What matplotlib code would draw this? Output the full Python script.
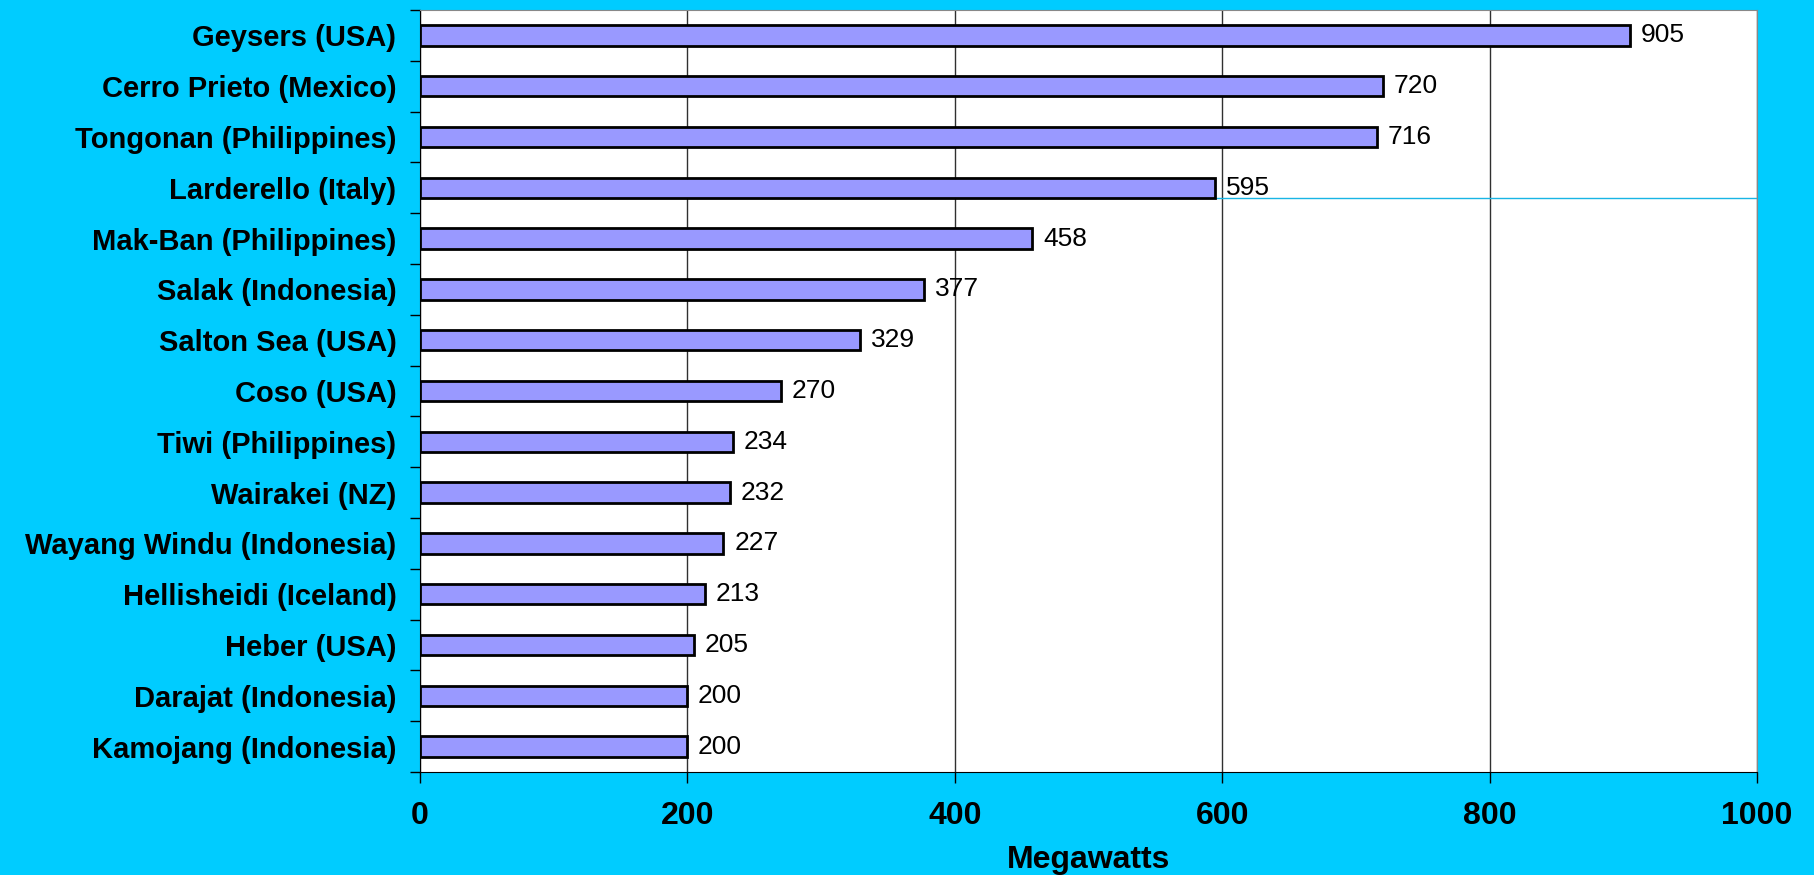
import numpy as np
import matplotlib
matplotlib.use("Agg")
import matplotlib.pyplot as plt

# campos geotermicos y su capacidad instalada (MW)
campos = ["Geysers (USA)", "Cerro Prieto (Mexico)", "Tongonan (Philippines)",
          "Larderello (Italy)", "Mak-Ban (Philippines)", "Salak (Indonesia)",
          "Salton Sea (USA)", "Coso (USA)", "Tiwi (Philippines)", "Wairakei (NZ)",
          "Wayang Windu (Indonesia)", "Hellisheidi (Iceland)", "Heber (USA)",
          "Darajat (Indonesia)", "Kamojang (Indonesia)"]
megawatts = [905, 720, 716, 595, 458, 377, 329, 270, 234, 232, 227, 213, 205, 200, 200]
xticks = [0, 200, 400, 600, 800, 1000]

plt.rcParams['font.family'] = ['Liberation Sans', 'DejaVu Sans']

fondo = '#00CCFF'
fig = plt.figure(figsize=(18.15, 8.75), dpi=100, facecolor=fondo)
ax = fig.add_axes([0.2314, 0.1177, 0.7366, 0.8709])
ax.set_facecolor('white')

y = np.arange(len(campos))
alto = 0.4
ax.barh(y, megawatts, height=alto, color='#9999FF', edgecolor='black', linewidth=2, zorder=3)

for yi, v in zip(y, megawatts):
    ax.text(v + 8, yi, str(v), va='center', ha='left', fontsize=19, zorder=4)

# linea suelta que aparece en la imagen original (bajo Larderello)
i = campos.index("Larderello (Italy)")
ax.plot([megawatts[i], 1000], [i + alto / 2, i + alto / 2], color='#19B5E5', lw=1, zorder=2)

ax.set_xlim(0, 1000)
ax.set_ylim(len(campos) - 0.5, -0.5)
ax.set_xticks(xticks)
ax.set_xticklabels([str(t) for t in xticks], fontsize=23, fontweight='bold')
ax.tick_params(axis='x', length=8, width=1, pad=13, color='black')
ax.xaxis.grid(True, color='#303030', lw=1, zorder=1)

ax.set_yticks(y)
ax.set_yticklabels(campos, fontsize=21, fontweight='bold')
ax.tick_params(axis='y', which='major', length=0, pad=17)
ax.set_yticks(np.arange(len(campos) + 1) - 0.5, minor=True)
ax.tick_params(axis='y', which='minor', length=7, width=1, color='black')

ax.set_xlabel("Megawatts", fontsize=23, fontweight='bold', labelpad=10)

for lado in ['top', 'right']:
    ax.spines[lado].set_color('#888888')
for lado in ['left', 'bottom']:
    ax.spines[lado].set_color('black')

fig.savefig("out.png", dpi=100, facecolor=fondo)
